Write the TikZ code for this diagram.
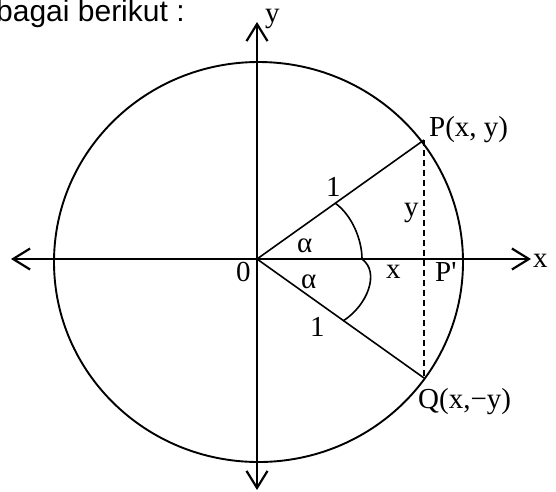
\documentclass[tikz,border=0pt]{standalone}
\usepackage{fontspec}
\setmainfont{Liberation Serif}
\newfontfamily\sansf{Liberation Sans}
\usetikzlibrary{arrows.meta}
\begin{document}
\begin{tikzpicture}[x=1pt,y=-1pt,
  axis/.style={line width=2.2pt,-{Straight Barb[length=17pt,width=21pt,line width=2.2pt]}},
  thin/.style={line width=1.6pt},
  lbl/.style={inner sep=0pt,anchor=base west,font=\fontsize{29}{29}\selectfont},
]
\useasboundingbox (0,0) rectangle (556,491);
\node[inner sep=0pt,anchor=base west,font=\sansf\fontsize{30}{30}\selectfont] (title) at (-4,21) {bagai berikut :};
\coordinate (O) at (257,259);
\coordinate (P) at (424,140);
\coordinate (Q) at (424,378);
\coordinate (xl) at (11,259);
\coordinate (xr) at (531,259);
\coordinate (yt) at (257,22);
\coordinate (yb) at (257,490);
\draw[line width=1.9pt] (258.5,262) ellipse [x radius=204.5, y radius=200];
\draw[axis] (O) -- (xl);
\draw[axis] (O) -- (xr);
\draw[axis] (O) -- (yt);
\draw[axis] (O) -- (yb);
\draw[thin] (O) -- (P);
\draw[thin] (O) -- (Q);
\draw[line width=1.4pt,dash pattern=on 6pt off 4pt] (P) -- (Q);
\coordinate (A1) at (335,203);
\coordinate (B1) at (362,259);
\coordinate (A2) at (343,321);
\draw[thin] (A1) .. controls (352,215) and (362,240) .. (B1);
\draw[thin] (B1) .. controls (380,272) and (368,305) .. (A2);
\node[lbl] (ylab) at (265,22) {y};
\node[lbl] (xlab) at (533,267) {x};
\node[lbl] (Plab) at (429,136) {P(x, y)};
\node[lbl] (Qlab) at (418,408) {Q(x,−y)};
\node[lbl] (yseg) at (404,216) {y};
\node[lbl] (Pplab) at (435,281) {P\XeTeXglyph\XeTeXcharglyph"0027};
\node[lbl] (xseg) at (386,278) {x};
\node[lbl] (a1) at (297,252) {α};
\node[lbl] (a2) at (301,288) {α};
\node[lbl] (one1) at (326,196) {1};
\node[lbl] (one2) at (310,336) {1};
\node[lbl] (zero) at (236,281) {0};
\end{tikzpicture}
\end{document}
